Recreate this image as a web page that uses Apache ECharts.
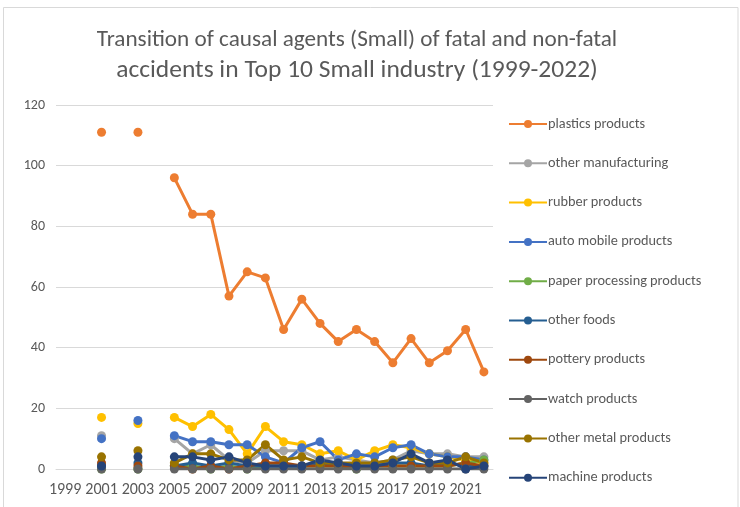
<!DOCTYPE html>
<html><head><meta charset="utf-8">
<script src="https://cdn.jsdelivr.net/npm/echarts@6/dist/echarts.min.js"></script>
<style>html,body{margin:0;padding:0;background:#fff}#c{width:740px;height:507px}</style>
</head><body><div id="c"></div>
<script>
const years = ['1999','2000','2001','2002','2003','2004','2005','2006','2007','2008','2009','2010','2011','2012','2013','2014','2015','2016','2017','2018','2019','2020','2021','2022'];
const seriesNames = ['plastics products','other manufacturing','rubber products','auto mobile products','paper processing products','other foods','pottery products','watch products','other metal products','machine products'];
const seriesColors = ['#ED7D31','#A5A5A5','#FFC000','#4472C4','#70AD47','#255E91','#9E480E','#636363','#997300','#264478'];
const plastics   = [null,null,111,null,111,null,96,84,84,57,65,63,46,56,48,42,46,42,35,43,35,39,46,32];
const otherMfg   = [null,null,11,null,0,null,10,5,8,3,2,6,6,6,3,4,3,2,3,6,5,5,4,4];
const rubber     = [null,null,17,null,15,null,17,14,18,13,5,14,9,8,5,6,3,6,8,7,5,4,3,2];
const autoMobile = [null,null,10,null,16,null,11,9,9,8,8,4,2,7,9,3,5,4,7,8,5,4,4,3];
const paper      = [null,null,0,null,0,null,1,1,0,1,0,1,1,1,1,1,0,1,1,1,1,1,2,3];
const otherFoods = [null,null,1,null,2,null,1,2,1,2,1,1,1,1,2,1,1,1,2,2,1,2,1,1];
const pottery    = [null,null,2,null,1,null,1,0,1,0,1,2,2,1,1,1,1,1,1,1,1,1,2,1];
const watch      = [null,null,0,null,0,null,0,0,0,0,0,0,0,0,0,0,0,0,0,0,0,0,0,0];
const otherMetal = [null,null,4,null,6,null,2,5,5,3,3,8,3,4,2,2,2,2,3,4,2,2,4,2];
const machine    = [null,null,1,null,4,null,4,4,3,4,2,1,1,1,3,2,1,1,2,5,2,3,0,1];
const allData = [plastics,otherMfg,rubber,autoMobile,paper,otherFoods,pottery,watch,otherMetal,machine];
const yTicks = {min:0,max:120,interval:20};

const FONT = 'Carlito, "Liberation Sans Narrow", "Liberation Sans", sans-serif';
const chart = echarts.init(document.getElementById('c'), null, {renderer:'canvas'});
chart.setOption({
  animation:false,
  backgroundColor:'#fff',
  graphic:[{type:'rect',shape:{x:3.5,y:7.5,width:734.5,height:505},style:{fill:'none',stroke:'#d9d9d9',lineWidth:1}}],
  title:{text:'{a|Transition of causal agents (Small) of fatal and non-fatal}\n{b|accidents in Top 10 Small industry (1999-2022)}',
    left:352, textAlign:'center', top:19.5,
    textStyle:{fontFamily:FONT,fontSize:23.2,fontWeight:'normal',color:'#595959',lineHeight:31,
      rich:{a:{fontFamily:FONT,fontSize:23.2,color:'#595959',lineHeight:31},
            b:{fontFamily:FONT,fontSize:25.5,color:'#595959',lineHeight:31}}}},
  legend:{orient:'vertical',left:503,top:112,itemWidth:38,itemHeight:10,itemGap:25.3,
    textStyle:{fontFamily:FONT,fontSize:14.3,lineHeight:14,color:'#595959',padding:[0,0,0,-4]},
    data:seriesNames},
  grid:{left:56,right:247,top:105,bottom:38},
  xAxis:{type:'category',data:years,boundaryGap:true,
    axisLine:{lineStyle:{color:'#d9d9d9'}},axisTick:{show:false},
    axisLabel:{interval:1,color:'#595959',fontFamily:FONT,fontSize:16,margin:13}},
  yAxis:{type:'value',min:yTicks.min,max:yTicks.max,interval:yTicks.interval,
    axisLine:{show:false},axisTick:{show:false},
    splitLine:{lineStyle:{color:'#d9d9d9',width:1}},
    axisLabel:{color:'#595959',fontFamily:FONT,fontSize:14,margin:11}},
  series:allData.map((d,i)=>({name:seriesNames[i],type:'line',data:d,connectNulls:false,
    symbol:'circle',symbolSize:9,showSymbol:true,
    itemStyle:{color:seriesColors[i]},lineStyle:{color:seriesColors[i],width:3}}))
});
</script></body></html>
